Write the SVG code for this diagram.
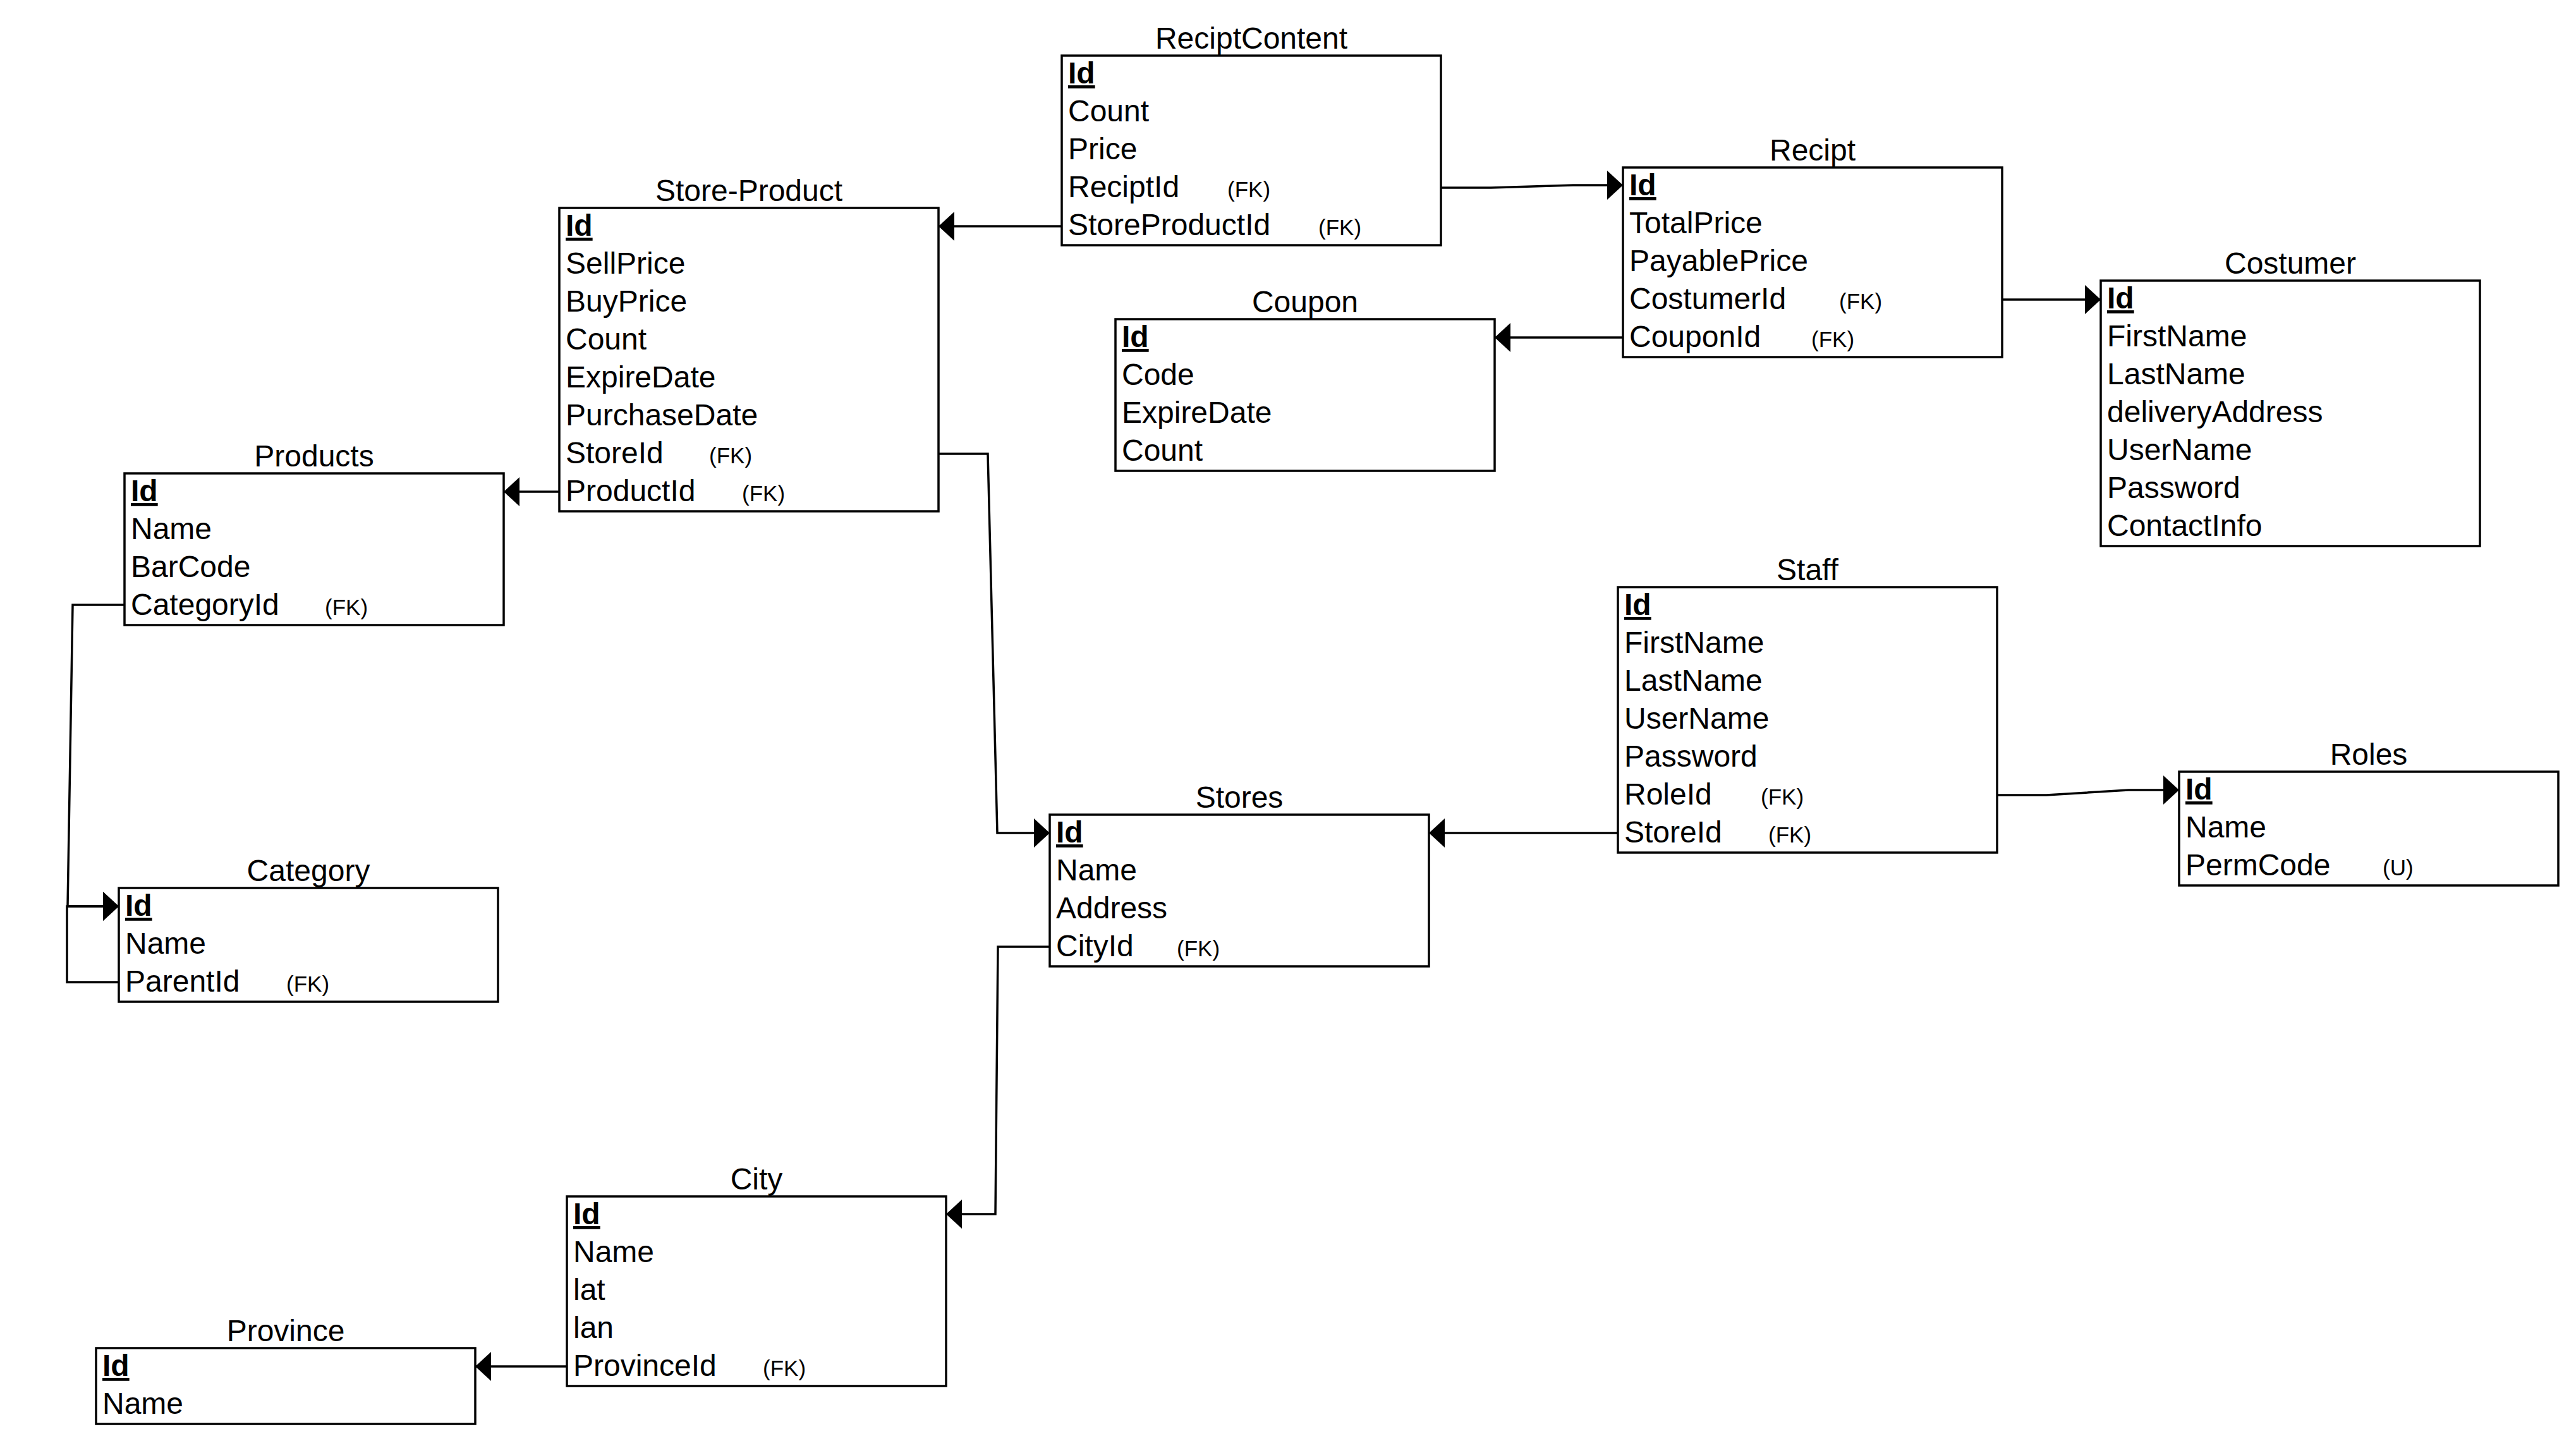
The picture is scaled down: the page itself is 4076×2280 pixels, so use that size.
<svg xmlns="http://www.w3.org/2000/svg" width="4076" height="2280" viewBox="0 0 4076 2280">
<style>
.box{fill:#fff;stroke:#000;stroke-width:3.5}
.t{font-family:"Liberation Sans",Arial,sans-serif;font-size:48px;fill:#000}
.title{font-family:"Liberation Sans",Arial,sans-serif;font-size:48px;fill:#000;text-anchor:middle}
.pk{font-weight:bold;text-decoration:underline}
.fk{font-family:"Liberation Sans",Arial,sans-serif;font-size:35px;fill:#000}
.c{fill:none;stroke:#000;stroke-width:3.5;marker-end:url(#arr)}
</style>
<defs>
<marker id="arr" markerUnits="userSpaceOnUse" markerWidth="26" markerHeight="46" refX="25" refY="23" orient="auto">
<path d="M0,0 L25,23 L0,46 z" fill="#000"/>
</marker>
</defs>
<rect width="4076" height="2280" fill="#fff"/>

<g id="ReciptContent">
<text class="title" x="1980" y="77">ReciptContent</text>
<rect class="box" x="1680" y="88" width="600" height="300"/>
<text class="t pk" x="1690" y="132">Id</text>
<text class="t" x="1690" y="192">Count</text>
<text class="t" x="1690" y="252">Price</text>
<text class="t" x="1690" y="312">ReciptId</text><text class="fk" x="1942" y="312">(FK)</text>
<text class="t" x="1690" y="372">StoreProductId</text><text class="fk" x="2086" y="372">(FK)</text>
</g>

<g id="StoreProduct">
<text class="title" x="1185" y="318">Store-Product</text>
<rect class="box" x="885" y="329" width="600" height="480"/>
<text class="t pk" x="895" y="373">Id</text>
<text class="t" x="895" y="433">SellPrice</text>
<text class="t" x="895" y="493">BuyPrice</text>
<text class="t" x="895" y="553">Count</text>
<text class="t" x="895" y="613">ExpireDate</text>
<text class="t" x="895" y="673">PurchaseDate</text>
<text class="t" x="895" y="733">StoreId</text><text class="fk" x="1122" y="733">(FK)</text>
<text class="t" x="895" y="793">ProductId</text><text class="fk" x="1174" y="793">(FK)</text>
</g>

<g id="Recipt">
<text class="title" x="2868" y="254">Recipt</text>
<rect class="box" x="2568" y="265" width="600" height="300"/>
<text class="t pk" x="2578" y="309">Id</text>
<text class="t" x="2578" y="369">TotalPrice</text>
<text class="t" x="2578" y="429">PayablePrice</text>
<text class="t" x="2578" y="489">CostumerId</text><text class="fk" x="2910" y="489">(FK)</text>
<text class="t" x="2578" y="549">CouponId</text><text class="fk" x="2866" y="549">(FK)</text>
</g>

<g id="Coupon">
<text class="title" x="2065" y="494">Coupon</text>
<rect class="box" x="1765" y="505" width="600" height="240"/>
<text class="t pk" x="1775" y="549">Id</text>
<text class="t" x="1775" y="609">Code</text>
<text class="t" x="1775" y="669">ExpireDate</text>
<text class="t" x="1775" y="729">Count</text>
</g>

<g id="Costumer">
<text class="title" x="3624" y="433">Costumer</text>
<rect class="box" x="3324" y="444" width="600" height="420"/>
<text class="t pk" x="3334" y="488">Id</text>
<text class="t" x="3334" y="548">FirstName</text>
<text class="t" x="3334" y="608">LastName</text>
<text class="t" x="3334" y="668">deliveryAddress</text>
<text class="t" x="3334" y="728">UserName</text>
<text class="t" x="3334" y="788">Password</text>
<text class="t" x="3334" y="848">ContactInfo</text>
</g>

<g id="Products">
<text class="title" x="497" y="738">Products</text>
<rect class="box" x="197" y="749" width="600" height="240"/>
<text class="t pk" x="207" y="793">Id</text>
<text class="t" x="207" y="853">Name</text>
<text class="t" x="207" y="913">BarCode</text>
<text class="t" x="207" y="973">CategoryId</text><text class="fk" x="514" y="973">(FK)</text>
</g>

<g id="Staff">
<text class="title" x="2860" y="918">Staff</text>
<rect class="box" x="2560" y="929" width="600" height="420"/>
<text class="t pk" x="2570" y="973">Id</text>
<text class="t" x="2570" y="1033">FirstName</text>
<text class="t" x="2570" y="1093">LastName</text>
<text class="t" x="2570" y="1153">UserName</text>
<text class="t" x="2570" y="1213">Password</text>
<text class="t" x="2570" y="1273">RoleId</text><text class="fk" x="2786" y="1273">(FK)</text>
<text class="t" x="2570" y="1333">StoreId</text><text class="fk" x="2798" y="1333">(FK)</text>
</g>

<g id="Roles">
<text class="title" x="3748" y="1210">Roles</text>
<rect class="box" x="3448" y="1221" width="600" height="180"/>
<text class="t pk" x="3458" y="1265">Id</text>
<text class="t" x="3458" y="1325">Name</text>
<text class="t" x="3458" y="1385">PermCode</text><text class="fk" x="3770" y="1385">(U)</text>
</g>

<g id="Stores">
<text class="title" x="1961" y="1278">Stores</text>
<rect class="box" x="1661" y="1289" width="600" height="240"/>
<text class="t pk" x="1671" y="1333">Id</text>
<text class="t" x="1671" y="1393">Name</text>
<text class="t" x="1671" y="1453">Address</text>
<text class="t" x="1671" y="1513">CityId</text><text class="fk" x="1862" y="1513">(FK)</text>
</g>

<g id="Category">
<text class="title" x="488" y="1394">Category</text>
<rect class="box" x="188" y="1405" width="600" height="180"/>
<text class="t pk" x="198" y="1449">Id</text>
<text class="t" x="198" y="1509">Name</text>
<text class="t" x="198" y="1569">ParentId</text><text class="fk" x="453" y="1569">(FK)</text>
</g>

<g id="City">
<text class="title" x="1197" y="1882">City</text>
<rect class="box" x="897" y="1893" width="600" height="300"/>
<text class="t pk" x="907" y="1937">Id</text>
<text class="t" x="907" y="1997">Name</text>
<text class="t" x="907" y="2057">lat</text>
<text class="t" x="907" y="2117">lan</text>
<text class="t" x="907" y="2177">ProvinceId</text><text class="fk" x="1207" y="2177">(FK)</text>
</g>

<g id="Province">
<text class="title" x="452" y="2122">Province</text>
<rect class="box" x="152" y="2133" width="600" height="120"/>
<text class="t pk" x="162" y="2177">Id</text>
<text class="t" x="162" y="2237">Name</text>
</g>

<g id="connectors">
<path class="c" d="M1680,358 L1485,358"/>
<path class="c" d="M2280,297 L2359,297 L2489,293 L2568,293"/>
<path class="c" d="M2568,534 L2365,534"/>
<path class="c" d="M3168,474 L3324,474"/>
<path class="c" d="M1485,718 L1563,718 L1578,1318 L1661,1318"/>
<path class="c" d="M1661,1498 L1579,1498 L1575,1921 L1497,1921"/>
<path class="c" d="M2560,1318 L2261,1318"/>
<path class="c" d="M3160,1258 L3238,1258 L3368,1250 L3448,1250"/>
<path class="c" d="M885,778 L797,778"/>
<path class="c" d="M197,957 L115,957 L107,1434 L188,1434"/>
<path class="c" d="M188,1554 L106,1554 L106,1434 L188,1434"/>
<path class="c" d="M897,2162 L752,2162"/>
</g>
</svg>
